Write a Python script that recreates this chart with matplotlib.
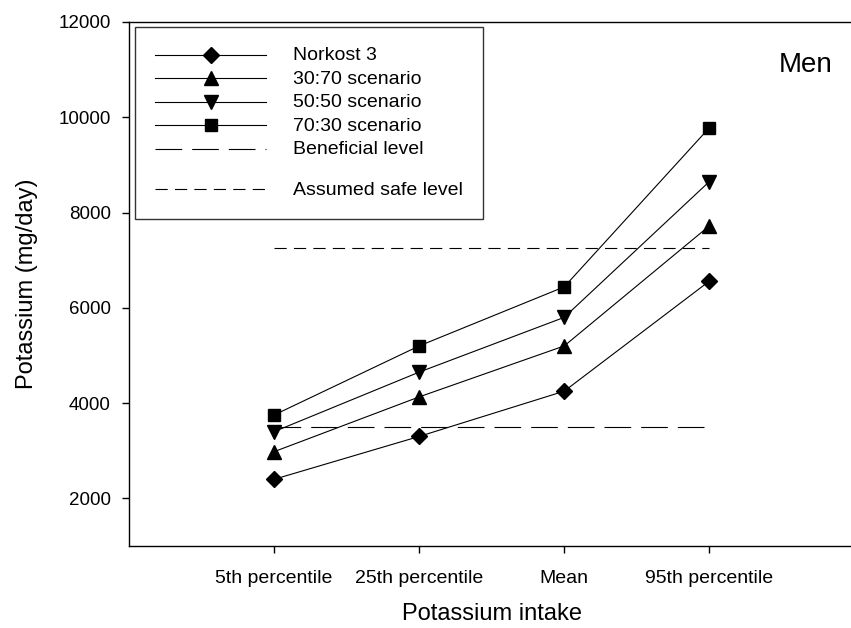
import matplotlib.pyplot as plt
from matplotlib.lines import Line2D

plt.rcParams['font.family'] = ['Liberation Sans', 'DejaVu Sans']

# ------- data -------
categories = ['5th percentile', '25th percentile', 'Mean', '95th percentile']
norkost3 = [2400, 3300, 4250, 6560]
scen_30_70 = [2980, 4130, 5200, 7720]
scen_50_50 = [3400, 4650, 5800, 8650]
scen_70_30 = [3750, 5200, 6440, 9780]
beneficial_level = 3500
safe_level = 7250

x = list(range(1, len(categories) + 1))

fig = plt.figure(figsize=(8.51, 6.28), dpi=100)
ax = fig.add_axes([129/851, 1 - 546/628, 1.004 - 129/851, (546 - 22)/628])

lw = 0.8
ax.plot(x, norkost3, color='k', lw=lw, marker='D', ms=7.8, label='Norkost 3')
ax.plot(x, scen_30_70, color='k', lw=lw, marker='^', ms=9.4, label='30:70 scenario')
ax.plot(x, scen_50_50, color='k', lw=lw, marker='v', ms=9.4, label='50:50 scenario')
ax.plot(x, scen_70_30, color='k', lw=lw, marker='s', ms=8.6, label='70:30 scenario')
ax.plot([x[0], x[-1]], [beneficial_level] * 2, color='k', lw=lw,
        dashes=(24, 9), label='Beneficial level')
ax.plot([x[0], x[-1]], [safe_level] * 2, color='k', lw=lw,
        dashes=(11, 6.5), label='Assumed safe level')

ax.set_xlim(0, 5)
ax.set_ylim(1000, 12000)
ax.set_xticks(x)
ax.set_xticklabels(categories, fontsize=14)
ax.set_yticks([2000, 4000, 6000, 8000, 10000, 12000])
ax.tick_params(direction='out', length=5, width=1)
ax.tick_params(axis='y', labelsize=13.5, pad=8)
ax.tick_params(axis='x', pad=12)
for s in ax.spines.values():
    s.set_linewidth(1)
ax.spines['right'].set_visible(False)

ax.set_xlabel('Potassium intake', fontsize=17, labelpad=12)
ax.set_ylabel('Potassium (mg/day)', fontsize=17, labelpad=15)

fig.text(806/851, 1 - 65/628, 'Men', fontsize=20, ha='center', va='center')

# legend with a short blank row before the safe level entry
handles, labels = ax.get_legend_handles_labels()
blank = Line2D([], [], color='none')
handles = handles[:5] + [blank] + handles[5:]
labels = labels[:5] + [''] + labels[5:]
leg = ax.legend(handles, labels, loc='upper left',
                bbox_to_anchor=((135 - 129)/722, 1 - (27 - 22)/524),
                fontsize=14, frameon=True, fancybox=False, edgecolor='k',
                handlelength=5.7, handleheight=0.2, handletextpad=1.35,
                borderpad=1.05, labelspacing=0.33, borderaxespad=0)
leg.get_frame().set_linewidth(1)
leg.get_texts()[5].set_fontsize(1)

fig.savefig('out.png', dpi=100)
